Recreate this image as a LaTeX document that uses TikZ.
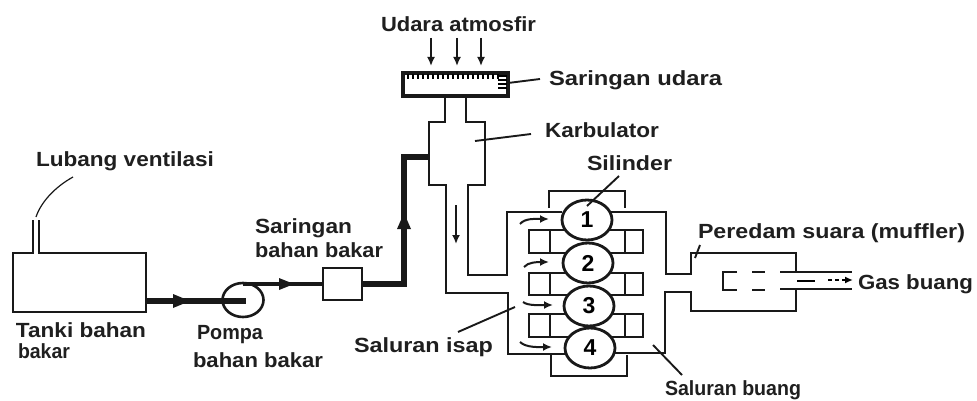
\documentclass[tikz,border=0pt]{standalone}
\usepackage{fontspec}
\usepackage{graphicx}
\setmainfont{Liberation Sans}[BoldFont={Liberation Sans Bold}]
\usetikzlibrary{arrows.meta,shapes.geometric}
\newcommand{\lbl}[5]{\node[lab] (#1) at (#2,#3) {\resizebox{#4pt}{\height}{#5}};}
\tikzset{
  lab/.style={anchor=base west,inner sep=0pt,outer sep=0pt,font=\bfseries\fontsize{20.5}{23}\selectfont,text=black!88},
  pipe/.style={line width=2.7pt,line join=miter,draw=black!90},
  fuel/.style={line width=5.2pt,draw=black!90,line join=miter},
  leader/.style={line width=1.9pt,draw=black!90},
  flow/.style={line width=2pt,draw=black!90,-{Latex[length=9pt,width=8pt]}},
  cyl/.style={ellipse,draw=black!90,line width=2.8pt,fill=white,minimum width=50pt,minimum height=40pt,inner sep=0pt,outer sep=0pt,font=\bfseries\fontsize{23}{25}\selectfont},
  boxn/.style={rectangle,draw=black!90,line width=2.6pt,fill=white,inner sep=0pt,outer sep=0pt},
}
\begin{document}
\begin{tikzpicture}[x=1pt,y=-1pt]
\useasboundingbox (0,0) rectangle (977,401);
% labels
\lbl{ludara}{381}{32}{155}{Udara atmosfir}
\lbl{lsarud}{549}{86}{173}{Saringan udara}
\lbl{lkarb}{545}{138}{114}{Karbulator}
\lbl{lsil}{587}{170}{85}{Silinder}
\lbl{lven}{36}{167}{178}{Lubang ventilasi}
\lbl{lsarb}{255}{233}{97}{Saringan}
\lbl{lbb}{255}{257}{128}{bahan bakar}
\lbl{ltanki}{16}{337}{130}{Tanki bahan}
\lbl{lbakar}{18}{358}{52}{bakar}
\lbl{lpompa}{197}{339}{66}{Pompa}
\lbl{lbb2}{193}{367}{130}{bahan bakar}
\lbl{lisap}{354}{352}{139}{Saluran isap}
\lbl{lbuang}{665}{395}{136}{Saluran buang}
\lbl{lmuf}{698}{238}{267}{Peredam suara (muffler)}
\lbl{lgas}{858}{289}{115}{Gas buang}
% air filter
\node[boxn,line width=4pt,minimum width=105pt,minimum height=23pt] (filterair) at (455.5,84.5) {};
\foreach \x in {408,413,...,498} \draw[line width=1.5pt] (\x,74) -- (\x,79);
\foreach \y in {76,80,84,88} \draw[line width=1.5pt] (498,\y) -- (507,\y);
\foreach \x/\n in {431/a,457/b,481/c}{
  \coordinate (in\n) at (\x,38); \coordinate (out\n) at (\x,66);
  \draw[flow] (in\n) -- (out\n);
}
% carburettor
\draw[pipe] (445,96) -- (445,122) -- (429,122) -- (429,185) -- (446,185) -- (446,293) -- (508,293) -- (508,354) -- (565,354);
\draw[pipe] (466,96) -- (466,122) -- (485,122) -- (485,185) -- (468,185) -- (468,275) -- (507,275) -- (507,212) -- (562,212);
\coordinate (carb) at (429,157);
% engine block
\draw[pipe] (549,208) -- (549,191) -- (625,191) -- (625,208);
\draw[pipe] (551,355) -- (551,376) -- (627,376) -- (627,355);
\foreach \a/\b in {230/253,273/295,314/337}{
  \draw[pipe] (570,\a) -- (529,\a) -- (529,\b) -- (570,\b);
  \draw[pipe] (550,\a) -- (550,\b);
  \draw[pipe] (606,\a) -- (643,\a) -- (643,\b) -- (606,\b);
  \draw[pipe] (625,\a) -- (625,\b);
}
% exhaust and muffler
\draw[pipe] (610,212) -- (666,212) -- (666,274) -- (691,274) -- (691,253) -- (796,253) -- (796,272);
\draw[pipe] (610,353) -- (665,353) -- (665,292) -- (691,292) -- (691,311) -- (796,311) -- (796,290);
\draw[pipe,line width=2.2pt] (780,272) -- (852,272);
\draw[pipe,line width=2.2pt] (780,289) -- (852,289);
\draw[pipe] (737,272) -- (723,272) -- (723,290) -- (737,290);
\draw[pipe] (752,272) -- (765,272);
\draw[pipe] (752,290) -- (765,290);
\draw[line width=1.3pt] (797,281) -- (815,281);
\coordinate (gasa) at (828,280); \coordinate (gasb) at (853,280);
\draw[line width=1.7pt,dash pattern=on 4pt off 3pt,-{Latex[length=8pt,width=7pt]}] (gasa) -- (gasb);
% cylinders
\node[cyl] (c1) at (587,220) {1};
\node[cyl] (c2) at (588,263) {2};
\node[cyl] (c3) at (589,306) {3};
\node[cyl] (c4) at (590,348) {4};
% fuel line
\node[boxn,line width=2.4pt,minimum width=133pt,minimum height=59pt,fill=none] (tank) at (79.5,282.5) {};
\draw[white,line width=3pt] (34,253) -- (38,253);
\draw[pipe,line width=2.2pt] (33,220) -- (33,254) (39,220) -- (39,254);
\node[ellipse,draw=black!90,line width=2.6pt,minimum width=41pt,minimum height=34pt,inner sep=0pt,outer sep=0pt] (pump) at (243,300) {};
\node[boxn,minimum width=39pt,minimum height=32pt] (ffilter) at (342.5,284) {};
\coordinate (p1) at (246,301); \coordinate (t1) at (147,301); \coordinate (m1) at (190,301);
\coordinate (p2) at (243,284); \coordinate (m2) at (294,284); \coordinate (f1) at (323,284);
\coordinate (f2) at (362,284); \coordinate (k) at (404,284); \coordinate (m3) at (404,213);
\draw[fuel] (t1) -- (p1);
\draw[fuel,line width=4.4pt] (p2) -- (f1);
\draw[fuel] (f2) -- (k) -- (404,157) -- (carb);
\fill[black!90] (m1) -- (173,294) -- (173,308) -- cycle;
\fill[black!90] (m2) -- (279,278) -- (279,290) -- cycle;
\fill[black!90] (m3) -- (397,229) -- (411,229) -- cycle;
% flow arrows
\coordinate (fa) at (456,205); \coordinate (fb) at (456,244);
\draw[flow,line width=2.6pt] (fa) -- (fb);
\draw[flow] (520,224) .. controls (525,218) and (535,219) .. (549,219);
\draw[flow] (524,267) .. controls (528,262) and (538,262) .. (549,262);
\draw[flow] (523,302) .. controls (528,306) and (540,305) .. (553,305);
\draw[flow] (520,342) .. controls (526,348) and (540,347) .. (552,347);
% leaders
\coordinate (ls) at (540,79);
\draw[leader] (ls) -- (508,83);
\draw[leader] (531,134) -- (475,141);
\draw[leader] (619,176) -- (587,206);
\draw[leader] (515,307) -- (458,332);
\draw[leader] (653,345) -- (682,375);
\draw[leader] (700,245) -- (695,258);
\draw[leader,line width=1.2pt] (73,177) .. controls (55,187) and (41,202) .. (36,217);
\end{tikzpicture}
\end{document}
